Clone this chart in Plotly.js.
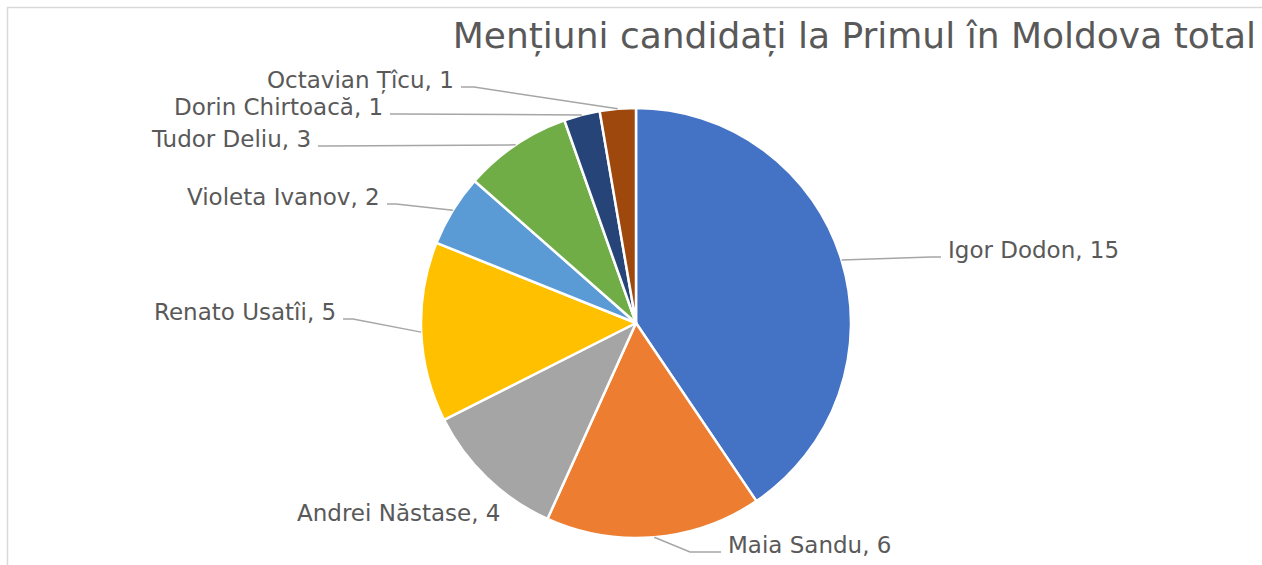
<!DOCTYPE html>
<html><head><meta charset="utf-8">
<script src="https://cdn.plot.ly/plotly-3.0.1.min.js"></script>
<style>body{margin:0;background:#fff}</style>
</head><body>
<div id="chart" style="width:1262px;height:565px"></div>
<script>
// ---- data ----
const candidates = ["Igor Dodon","Maia Sandu","Andrei Năstase","Renato Usatîi","Violeta Ivanov","Tudor Deliu","Dorin Chirtoacă","Octavian Țîcu"];
const mentions = [15, 6, 4, 5, 2, 3, 1, 1];
const sliceColors = ["#4472C4","#ED7D31","#A5A5A5","#FFC000","#5B9BD5","#70AD47","#264478","#9E480E"];
const chartTitle = "Mențiuni candidați la Primul în Moldova total";

// ---- layout config (pixels) ----
const W = 1262, H = 565, CX = 636, CY = 323, R = 215;
const labelPlacement = [
  {x: 946, base: 258, side: 'left',  line: true,  elbow: 15},
  {x: 726, base: 553, side: 'left',  line: true,  elbow: 36},
  {x: 503, base: 521, side: 'right', line: false, elbow: 0},
  {x: 338, base: 320, side: 'right', line: true,  elbow: 15},
  {x: 382, base: 205, side: 'right', line: true,  elbow: 14},
  {x: 313, base: 147, side: 'right', line: true,  elbow: 12},
  {x: 385, base: 115, side: 'right', line: true,  elbow: 12},
  {x: 456, base: 88,  side: 'right', line: true,  elbow: 18}
];
const labelFont = {family: 'DejaVu Sans', size: 23, color: '#595959'};

const px = x => x / W;
const py = y => 1 - y / H;

const total = mentions.reduce((a, b) => a + b, 0);
let cum = 0;
const annotations = [];
const shapes = [{
  type: 'rect', xref: 'paper', yref: 'paper', layer: 'below',
  x0: px(7.5), x1: 1.02, y0: -0.02, y1: py(7.5),
  line: {color: '#D9D9D9', width: 1.5}, fillcolor: 'rgba(0,0,0,0)'
}];

mentions.forEach((v, i) => {
  const mid = (cum + v / 2) / total * 2 * Math.PI;
  cum += v;
  const ex = CX + R * Math.sin(mid);
  const ey = CY - R * Math.cos(mid);
  const p = labelPlacement[i];
  const dir = p.side === 'left' ? -1 : 1;
  annotations.push({
    xref: 'paper', yref: 'paper',
    x: px(p.x), y: py(p.base - 8),
    xanchor: p.side, yanchor: 'middle',
    text: candidates[i] + ', ' + v,
    showarrow: false, font: labelFont
  });
  if (p.line) {
    const ly = p.base - 1;
    const endX = p.x + dir * 5;
    const kneeX = p.x + dir * p.elbow;
    shapes.push({
      type: 'path', xref: 'paper', yref: 'paper',
      path: `M ${px(ex)},${py(ey)} L ${px(kneeX)},${py(ly)} L ${px(endX)},${py(ly)}`,
      line: {color: '#A6A6A6', width: 1.5}
    });
  }
});

const trace = {
  type: 'pie',
  labels: candidates,
  values: mentions,
  sort: false,
  direction: 'clockwise',
  rotation: 0,
  textinfo: 'none',
  hoverinfo: 'label+value',
  marker: {colors: sliceColors, line: {color: '#FFFFFF', width: 2.5}},
  domain: {x: [px(CX - R), px(CX + R)], y: [py(CY + R), py(CY - R)]},
  showlegend: false
};

const layout = {
  width: W, height: H,
  margin: {l: 0, r: 0, t: 0, b: 0},
  paper_bgcolor: '#FFFFFF',
  showlegend: false,
  title: {
    text: chartTitle,
    font: {family: 'DejaVu Sans', size: 36, color: '#595959'},
    x: 1256 / W, xanchor: 'right', xref: 'container',
    y: 1 - 35 / H, yanchor: 'middle', yref: 'container'
  },
  annotations: annotations,
  shapes: shapes
};

Plotly.newPlot('chart', [trace], layout, {displayModeBar: false, staticPlot: true});
</script>
</body></html>
